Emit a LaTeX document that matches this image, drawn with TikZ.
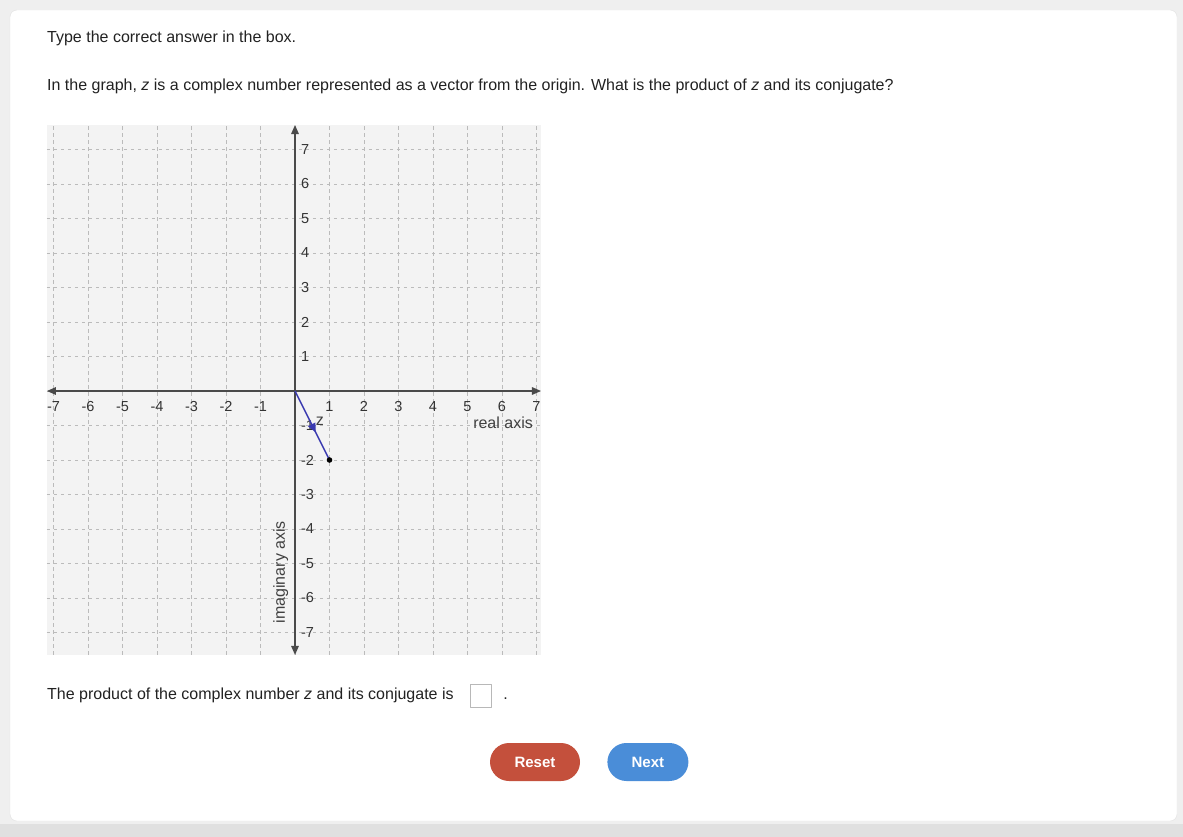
\documentclass[tikz,border=0pt]{standalone}
\usepackage{fontspec}
\setmainfont{Liberation Sans}
\usepackage{tikz}
\usetikzlibrary{arrows.meta,decorations.markings,positioning}
\definecolor{pagegray}{HTML}{EFEFEF}
\definecolor{panelline}{HTML}{E2E2E2}
\definecolor{graphbg}{HTML}{F3F3F3}
\definecolor{gridgray}{HTML}{BBBBBB}
\definecolor{axisgray}{HTML}{4A4A4A}
\definecolor{vecblue}{HTML}{3A3AB0}
\definecolor{boxgray}{HTML}{B8B8B8}
\definecolor{resetred}{HTML}{C4503C}
\definecolor{nextblue}{HTML}{4A8DD8}
\definecolor{textdark}{HTML}{222222}

\begin{document}
\begin{tikzpicture}[x=1pt, y=-1pt, line join=round,
  txt/.style={font=\fontsize{16}{19}\selectfont, text=textdark, inner sep=0pt},
  ticklbl/.style={font=\fontsize{14.5}{16}\selectfont, text=black!80, inner sep=0pt},
  gridline/.style={gridgray, dash pattern=on 3.5pt off 3.5pt, line width=0.6pt},
  axisline/.style={axisgray, line width=1.4pt, {Triangle[length=9pt,width=7.5pt]}-{Triangle[length=9pt,width=7.5pt]}},
  button/.style={rounded corners=19pt, minimum width=#1, minimum height=38pt, inner sep=0pt,
    text=white, font=\fontsize{15}{18}\selectfont\bfseries},
  button/.default=90pt]

\useasboundingbox (0,0) rectangle (1183,837);
\fill[pagegray] (0,0) rectangle (1183,837);
\fill[black!12] (0,824) rectangle (1183,837);
\draw[panelline, fill=white, rounded corners=7pt] (10,10) rectangle (1177,821);

\node[txt, anchor=base west] (instr) at (47,42.5) {Type the correct answer in the box.};
\node[txt, anchor=base west] (question) at (47,90.5) {In the graph, \textit{z} is a complex number represented as a vector from the origin. What is the product of \textit{z} and its conjugate?};

\begin{scope}[shift={(295,391)}, x=34.5pt, y=34.5pt]
\fill[graphbg] (-7.19,-7.65) rectangle (7.13,7.71);
\foreach \i in {-7,...,7} {
  \draw[gridline] (\i,-7.65) -- (\i,7.71);
  \draw[gridline] (-7.19,\i) -- (7.13,\i);
}
\coordinate (xleft) at (-7.19,0);
\coordinate (xright) at (7.13,0);
\coordinate (ybottom) at (0,-7.65);
\coordinate (ytop) at (0,7.71);
\draw[axisline] (xleft) -- (xright);
\draw[axisline] (ybottom) -- (ytop);
\foreach \i in {-7,...,-1,1,2,...,7} {
  \node[ticklbl] (xlab\i) at (\i,-0.45) {\i};
  \node[ticklbl, anchor=west] (ylab\i) at (0.17,\i) {\i};
}
\node[txt, text=black!75] (reallbl) at (6.03,-0.93) {real axis};
\node[txt, text=black!75, rotate=90] (imaglbl) at (-0.41,-5.25) {imaginary axis};

\coordinate (O) at (0,0);
\coordinate (Z) at (1,-2);
\draw[vecblue, line width=1.5pt, postaction={decorate},
  decoration={markings, mark=at position 0.6 with {\arrow{Triangle[length=9pt,width=8pt]}}}] (O) -- (Z);
\fill (Z) circle (2.8pt);
\node[txt, text=black!75] (zlbl) at (0.72,-0.87) {z};
\end{scope}

\node[txt, anchor=base west] (answer) at (47,699.5) {The product of the complex number \textit{z} and its conjugate is};
\node[draw=boxgray, fill=white, minimum width=21pt, minimum height=23pt, inner sep=0pt, right=16pt of answer] (ansbox) {};
\node[txt, anchor=base west, xshift=12pt] (enddot) at (answer.base -| ansbox.east) {.};

\node[button=90pt, fill=resetred] (reset) at (535,762) {Reset};
\node[button=81pt, fill=nextblue, right=27pt of reset] (next) {Next};

\end{tikzpicture}
\end{document}
